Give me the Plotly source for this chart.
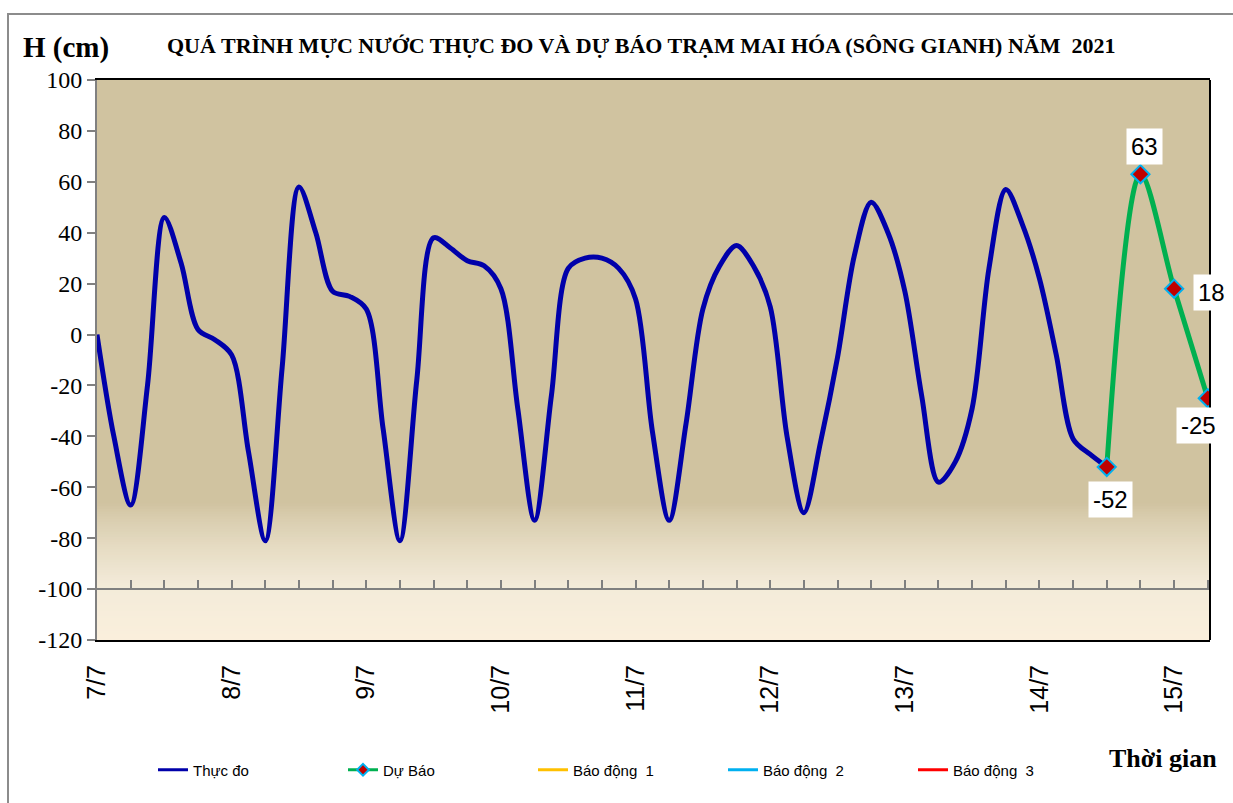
import plotly.graph_objects as go

# ---------------- data ----------------
day_labels = ["7/7", "8/7", "9/7", "10/7", "11/7", "12/7", "13/7", "14/7", "15/7"]
day_hours = [0, 24, 48, 72, 96, 120, 144, 168, 192]

obs_hours = list(range(0, 181, 3))
obs_values = [
    0, -40, -67, -20, 46, 28, 2, -2,          # 7/7
    -8, -46, -81, -13, 58, 40, 17, 15,        # 8/7
    10, -37, -81, -18, 38, 34, 29, 27,        # 9/7
    18, -29, -73, -24, 26, 30, 30, 26,        # 10/7
    14, -38, -73, -35, 10, 27, 35, 27,        # 11/7
    11, -40, -70, -42, -9, 31, 52, 40,        # 12/7
    17, -24, -58, -50, -29, 26, 57, 43,       # 13/7
    22, -8, -41, -47, -52,                    # 14/7
]

fc_hours = [180, 186, 192, 198]
fc_values = [-52, 63, 18, -25]
fc_label_shift = [(4, -33), (4, 28), (37, -4), (-9, -27)]

series_names = ["Thực đo", "Dự Báo"]
series_colors = ["#0000AA", "#00B050"]
alarm_names = ["Báo động  1", "Báo động  2", "Báo động  3"]
alarm_colors = ["#FFC000", "#00B0F0", "#FF0000"]

y_ticks = list(range(-120, 101, 20))
y_ticktext = [str(v) for v in y_ticks]

# ---------------- layout geometry ----------------
W, H = 1233, 803
L, R, T, B = 97, 23, 80, 163
pw, ph = W - L - R, H - T - B


def px_x(x):
    return (x - L) / pw


def px_y(y):
    return (H - B - y) / ph


fig = go.Figure()

fig.add_trace(go.Scatter(
    x=obs_hours, y=obs_values, mode="lines", name=series_names[0], showlegend=False,
    line=dict(color=series_colors[0], width=5, shape="spline", smoothing=0.9),
))
fig.add_trace(go.Scatter(
    x=fc_hours, y=fc_values, mode="lines+markers", name=series_names[1], showlegend=False,
    line=dict(color=series_colors[1], width=5, shape="spline", smoothing=0.9),
    marker=dict(symbol="diamond", size=14, color="#C00000",
                line=dict(color="#00B0F0", width=2)),
))
# legend entries (thin line samples like the reference)
fig.add_trace(go.Scatter(
    x=[None], y=[None], mode="lines", name=series_names[0], xaxis="x2",
    line=dict(color=series_colors[0], width=3),
))
fig.add_trace(go.Scatter(
    x=[None], y=[None], mode="lines+markers", name=series_names[1], xaxis="x2",
    line=dict(color=series_colors[1], width=3),
    marker=dict(symbol="diamond", size=9, color="#C00000",
                line=dict(color="#00B0F0", width=2)),
))
for n, c in zip(alarm_names, alarm_colors):
    fig.add_trace(go.Scatter(
        x=[None], y=[None], mode="lines", name=n, xaxis="x2",
        line=dict(color=c, width=3),
    ))

# data labels for forecast
for xv, yv, (dx, dy) in zip(fc_hours, fc_values, fc_label_shift):
    fig.add_annotation(
        x=xv, y=yv, text=str(yv), showarrow=False, xshift=dx, yshift=dy,
        bgcolor="white", borderpad=4,
        font=dict(family="Liberation Sans", size=24, color="black"),
    )

# background gradient (tan -> cream), drawn as overlapping bands
def lerp(c1, c2, t):
    return "rgb(%d,%d,%d)" % tuple(round(a + (b - a) * t) for a, b in zip(c1, c2))

tan = (208, 195, 160)
mid = (243, 235, 217)
cream = (250, 239, 220)
bands = []
lo, hi = -100, -68
n = 32
for i in range(n):
    y0 = lo + (hi - lo) * i / n
    t = (1 - (i + 0.5) / n) ** 0.8
    bands.append((y0, lerp(tan, mid, t)))
n2 = 20
for i in range(n2):
    y0 = -120 + 20 * i / n2
    t = 1 - (i + 0.5) / n2
    bands.append((y0, lerp(mid, cream, t)))
bands.sort(key=lambda b: -b[0])  # top to bottom, each overlaps the one above

shapes = [dict(type="rect", xref="x domain", yref="y", x0=0, x1=1, y0=-68, y1=100,
               fillcolor="rgb(208,195,160)", line_width=0, layer="below")]
for y0, col in bands:
    shapes.append(dict(type="rect", xref="x domain", yref="y", x0=0, x1=1,
                       y0=y0, y1=y0 + 2.5, fillcolor=col, line_width=0, layer="below"))
# right border of plot area
shapes.append(dict(type="line", xref="x domain", yref="y domain", x0=1, x1=1, y0=0, y1=1,
                   line=dict(color="black", width=2)))
# outer chart border
shapes.append(dict(type="rect", xref="paper", yref="paper",
                   x0=px_x(8), x1=px_x(1245), y0=px_y(815), y1=px_y(14),
                   line=dict(color="#8C8C8C", width=2), fillcolor="rgba(0,0,0,0)"))

fig.update_layout(
    width=W, height=H,
    margin=dict(l=L, r=R, t=T, b=B),
    paper_bgcolor="white",
    plot_bgcolor="rgb(208,195,160)",
    shapes=shapes,
    showlegend=True,
    legend=dict(orientation="h", x=px_x(628), y=px_y(770), xanchor="center", yanchor="middle",
                font=dict(family="Liberation Sans", size=15, color="black"),
                entrywidth=145, entrywidthmode="pixels", bgcolor="rgba(0,0,0,0)"),
    xaxis=dict(
        range=[0, 198.4], tickmode="array", tickvals=day_hours, ticktext=day_labels,
        tickangle=-90, ticks="", ticklabelstandoff=13,
        tickfont=dict(family="Liberation Sans", size=25, color="black"),
        showline=True, linecolor="black", linewidth=2, mirror=True,
        showgrid=False, zeroline=False,
    ),
    xaxis2=dict(
        overlaying="x", anchor="free", position=20 / 220, side="bottom",
        range=[0, 198.4], tick0=0, dtick=6, ticks="inside", ticklen=8,
        tickcolor="#808080", tickwidth=2, showticklabels=False,
        showline=True, linecolor="#808080", linewidth=2,
        showgrid=False, zeroline=False,
    ),
    yaxis=dict(
        range=[-120, 100], tickmode="array", tickvals=y_ticks, ticktext=y_ticktext,
        ticks="outside", ticklen=8, tickcolor="#808080", tickwidth=2,
        tickfont=dict(family="Liberation Serif", size=24, color="black"),
        showline=True, linecolor="#808080", linewidth=2,
        showgrid=False, zeroline=False,
    ),
    annotations=list(fig.layout.annotations) + [
        dict(text="<b>QUÁ TRÌNH MỰC NƯỚC THỰC ĐO VÀ DỰ BÁO TRẠM MAI HÓA (SÔNG GIANH) NĂM  2021</b>",
             xref="paper", yref="paper", x=px_x(641), y=px_y(45), showarrow=False,
             xanchor="center", yanchor="middle",
             font=dict(family="Liberation Serif", size=22, color="black")),
        dict(text="<b>H (cm)</b>", xref="paper", yref="paper", x=px_x(66), y=px_y(48),
             showarrow=False, xanchor="center", yanchor="middle",
             font=dict(family="Liberation Serif", size=29, color="black")),
        dict(text="<b>Thời gian</b>", xref="paper", yref="paper", x=px_x(1163), y=px_y(758),
             showarrow=False, xanchor="center", yanchor="middle",
             font=dict(family="Liberation Serif", size=26, color="black")),
    ],
)

fig.write_html("out.html", config={"displayModeBar": False},
               post_script="document.body.style.margin='0px';")
